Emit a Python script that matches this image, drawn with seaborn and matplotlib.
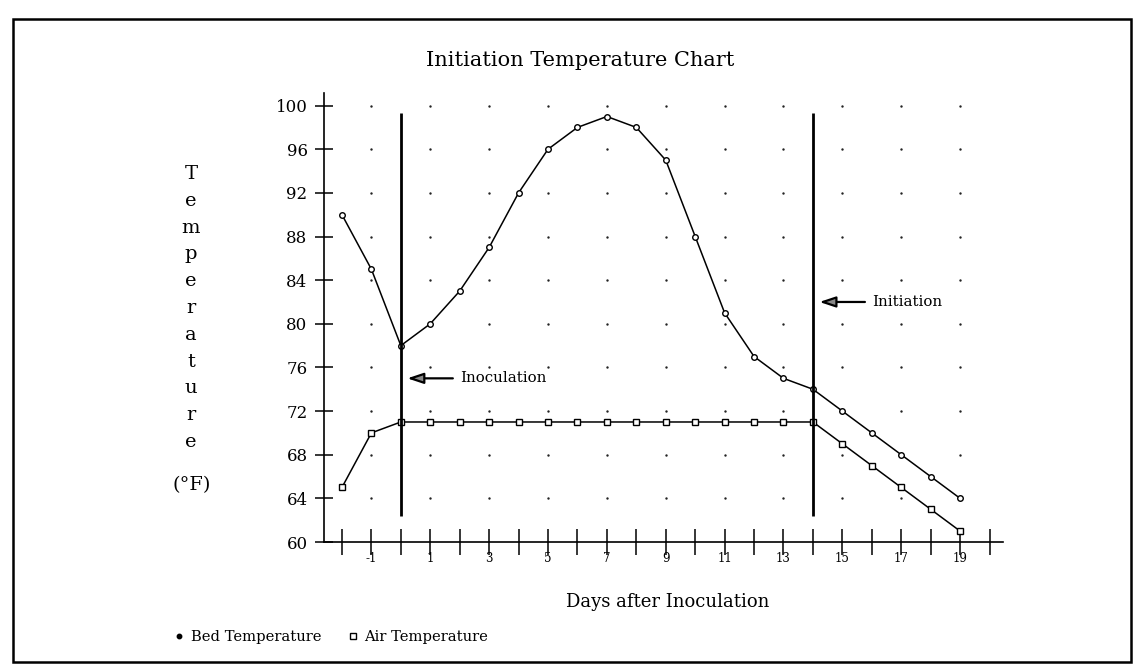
import matplotlib
matplotlib.use("Agg")
import matplotlib.pyplot as plt
from matplotlib.patches import Rectangle
from matplotlib.lines import Line2D
import numpy as np
import pandas as pd
import seaborn as sns

# ---- data -------------------------------------------------------------
days = list(range(-2, 20))
bed_temp = [90, 85, 78, 80, 83, 87, 92, 96, 98, 99, 98, 95, 88, 81, 77,
            75, 74, 72, 70, 68, 66, 64]
air_temp = [65, 70, 71, 71, 71, 71, 71, 71, 71, 71, 71, 71, 71, 71, 71,
            71, 71, 69, 67, 65, 63, 61]

x_ticks = list(range(-2, 21))
x_labeled = [-1, 1, 3, 5, 7, 9, 11, 13, 15, 17, 19]
y_ticks = [60, 64, 68, 72, 76, 80, 84, 88, 92, 96, 100]

event_days = [0, 14]
event_names = ["Inoculation", "Initiation"]
event_label_temp = [75, 82]
event_span = (62.4, 99.3)

series_names = ["Bed Temperature", "Air Temperature"]

# ---- figure -----------------------------------------------------------
sns.set_theme(style="white")
plt.rcParams["font.family"] = ["DejaVu Serif"]
plt.rcParams["text.color"] = "black"

W, H = 1138, 671
fig = plt.figure(figsize=(W / 100, H / 100), dpi=100)
fig.patch.set_facecolor("white")

ax_left, ax_right, ax_bottom, ax_top = 324, 1002.5, 542, 92.5
ax = fig.add_axes([ax_left / W, 1 - ax_bottom / H,
                   (ax_right - ax_left) / W, (ax_bottom - ax_top) / H])
ax.set_facecolor("white")

df = pd.DataFrame({"day": days, "bed": bed_temp, "air": air_temp})

# dotted background grid on odd days
gx, gy = np.meshgrid(x_labeled, y_ticks[1:])
ax.scatter(gx.ravel(), gy.ravel(), s=3, color="#222222", linewidths=0, zorder=1)

sns.lineplot(data=df, x="day", y="bed", ax=ax, color="black", lw=1.1,
             marker="o", ms=4, mfc="white", mec="black", mew=1.0, zorder=3)
sns.lineplot(data=df, x="day", y="air", ax=ax, color="black", lw=1.1,
             marker="s", ms=5, mfc="white", mec="black", mew=1.0, zorder=3)

# event markers with arrows
for d, name, t in zip(event_days, event_names, event_label_temp):
    ax.vlines(d, *event_span, color="black", lw=2.0, zorder=4)
    ax.annotate(name, xy=(d + 0.22, t), xytext=(d + 2.02, t),
                fontsize=10.8, va="center", ha="left", color="black",
                arrowprops=dict(arrowstyle="-|>,head_length=0.9,head_width=0.3",
                                color="black", fc="#888888", lw=1.6,
                                shrinkA=3, shrinkB=0))

ax.set_xlim(-2.61, 20.44)
ax.set_ylim(60, 101.2)
ax.set_xticks(x_ticks)
ax.set_xticklabels([str(d) if d in x_labeled else "" for d in x_ticks])
ax.set_yticks(y_ticks)
ax.set_yticklabels([str(v) for v in y_ticks])
ax.tick_params(axis="x", bottom=True, direction="inout", length=18.7, width=1.1,
               pad=-2.2, labelsize=8.5, colors="black")
ax.tick_params(axis="y", left=True, direction="inout", length=13, width=1.1,
               pad=5.3, labelsize=12, colors="black")
ax.set_xlabel("")
ax.set_ylabel("")
sns.despine(ax=ax)
for s in ("left", "bottom"):
    ax.spines[s].set_color("black")
    ax.spines[s].set_linewidth(1.2)

# titles and axis texts
fig.text(580 / W, 1 - 61 / H, "Initiation Temperature Chart",
         ha="center", va="center", fontsize=15, color="black")
for i, ch in enumerate("Temperature"):
    fig.text(191 / W, 1 - (179 + 26.8 * i) / H, ch,
             ha="center", va="baseline", fontsize=14, color="black")
fig.text(191.5 / W, 1 - 485.5 / H, "(°F)", ha="center", va="center",
         fontsize=14, color="black")
fig.text(667.7 / W, 1 - 602.4 / H, "Days after Inoculation",
         ha="center", va="center", fontsize=13, color="black")

handles = [Line2D([], [], ls="none", marker="o", ms=3.2, color="black"),
           Line2D([], [], ls="none", marker="s", ms=4, mfc="white", mec="black",
                  mew=1.0)]
leg = fig.legend(handles, series_names, loc="center left",
                 bbox_to_anchor=(175 / W, 1 - 637 / H), ncol=2, frameon=False,
                 fontsize=10.6, handlelength=0.6, handletextpad=0.5,
                 columnspacing=1.8, borderpad=0, borderaxespad=0)
for t in leg.get_texts():
    t.set_color("black")

# page frame
fig.add_artist(Rectangle((13 / W, 1 - 662 / H), (1131 - 13) / W, (662 - 19) / H,
                         transform=fig.transFigure, fill=False,
                         ec="black", lw=1.8))

fig.savefig("out.png", dpi=100, facecolor="white")
